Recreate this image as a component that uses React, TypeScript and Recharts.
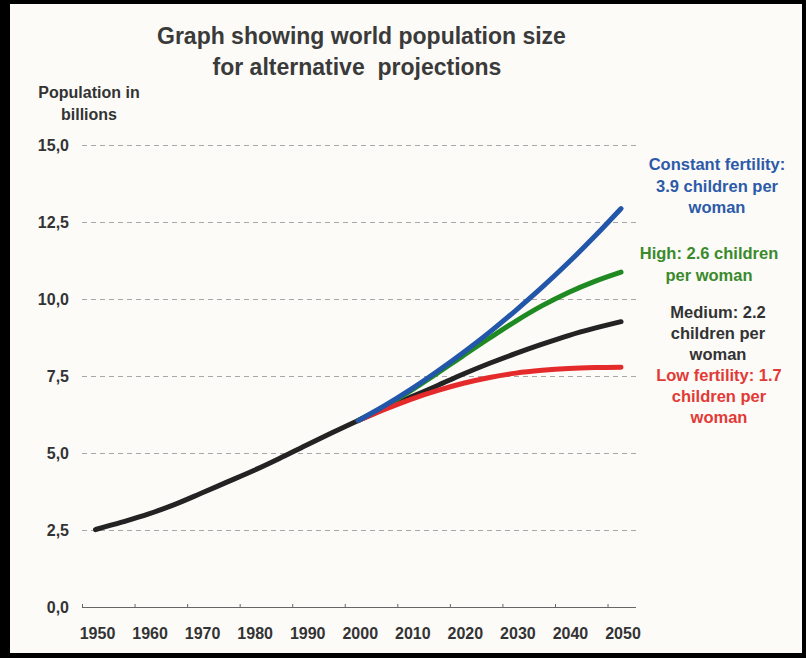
import React from "react";
import { LineChart, Line, XAxis, YAxis, CartesianGrid } from "recharts";

// years on the x axis, one point every 5 years
const years = [
  1950, 1955, 1960, 1965, 1970, 1975, 1980, 1985, 1990, 1995, 2000,
  2005, 2010, 2015, 2020, 2025, 2030, 2035, 2040, 2045, 2050,
];

// population in billions; medium variant carries the 1950-2000 history
const medium = [
  2.53, 2.77, 3.03, 3.34, 3.7, 4.07, 4.44, 4.84, 5.26, 5.67, 6.07,
  6.45, 6.83, 7.2, 7.58, 7.93, 8.25, 8.55, 8.83, 9.07, 9.28,
];
const low = [
  null, null, null, null, null, null, null, null, null, null, 6.07,
  6.43, 6.76, 7.04, 7.28, 7.47, 7.61, 7.7, 7.76, 7.79, 7.8,
];
const high = [
  null, null, null, null, null, null, null, null, null, null, 6.07,
  6.52, 7.04, 7.6, 8.18, 8.75, 9.3, 9.8, 10.23, 10.59, 10.89,
];
const constant = [
  null, null, null, null, null, null, null, null, null, null, 6.07,
  6.55, 7.08, 7.66, 8.28, 8.94, 9.65, 10.4, 11.2, 12.05, 12.95,
];

const xTicks = [1950, 1960, 1970, 1980, 1990, 2000, 2010, 2020, 2030, 2040, 2050];
const yTicks = [0, 2.5, 5, 7.5, 10, 12.5, 15];

const titleLines = ["Graph showing world population size", "for alternative  projections"];
const yLabelLines = ["Population in", "billions"];
const constantLabel = ["Constant fertility:", "3.9 children per", "woman"];
const highLabel = ["High: 2.6 children", "per woman"];
const mediumLabel = ["Medium: 2.2", "children per", "woman"];
const lowLabel = ["Low fertility: 1.7", "children per", "woman"];

const data = years.map((year, i) => ({
  year,
  medium: medium[i],
  low: low[i],
  high: high[i],
  constant: constant[i],
}));

const FONT = '"Liberation Sans", Arial, Helvetica, sans-serif';

const YearTick = (props: any) => {
  const { x, y, payload } = props;
  return (
    <g>
      <line x1={x - 13} x2={x - 13} y1={y - 3.5} y2={y} stroke="#666" strokeWidth={1} />
      <text
        x={x + 2}
        y={y + 26}
        textAnchor="middle"
        dominantBaseline="central"
        fill="#333"
        fontSize={16}
        fontWeight="bold"
        fontFamily={FONT}
      >
        {payload.value}
      </text>
    </g>
  );
};

const TextBlock = ({
  lines,
  left,
  top,
  width,
  color,
  size,
  lineHeight,
}: {
  lines: string[];
  left: number;
  top: number;
  width: number;
  color: string;
  size: number;
  lineHeight: number;
}) => (
  <div
    style={{
      position: "absolute",
      left,
      top,
      width,
      textAlign: "center",
      color,
      fontSize: size,
      lineHeight: `${lineHeight}px`,
      fontWeight: "bold",
      whiteSpace: "pre",
    }}
  >
    {lines.map((l) => (
      <div key={l}>{l}</div>
    ))}
  </div>
);

export default function App() {
  return (
    <div
      style={{
        position: "absolute",
        left: 0,
        top: 0,
        width: 806,
        height: 658,
        background: "#000",
        fontFamily: FONT,
        overflow: "hidden",
      }}
    >
      <div
        style={{
          position: "absolute",
          left: 10,
          top: 4,
          width: 792,
          height: 649,
          background: "#fcfbf8",
        }}
      />
      <div style={{ position: "absolute", left: 0, top: 0 }}>
        <LineChart
          width={806}
          height={658}
          data={data}
          margin={{ top: 145.5, right: 170, bottom: 20.5, left: 22 }}
        >
          <CartesianGrid
            vertical={false}
            stroke="#a8a8a8"
            strokeDasharray="5 4"
          />
          <XAxis
            dataKey="year"
            type="number"
            domain={[1947.43, 2052.85]}
            allowDataOverflow
            ticks={xTicks}
            interval={0}
            height={30}
            tickLine={false}
            tickSize={0}
            tickMargin={0}
            axisLine={{ stroke: "#666", strokeWidth: 1 }}
            tick={<YearTick />}
          />
          <YAxis
            type="number"
            domain={[0, 15]}
            ticks={yTicks}
            interval={0}
            width={60}
            axisLine={false}
            tickLine={false}
            tickSize={0}
            tickMargin={13}
            tickFormatter={(v: number) => v.toFixed(1).replace(".", ",")}
            tick={{ fill: "#333", fontSize: 16, fontWeight: "bold", fontFamily: FONT }}
          />
          <Line
            type="monotone"
            dataKey="medium"
            stroke="#232323"
            strokeWidth={5}
            strokeLinecap="round"
            dot={false}
            activeDot={false}
            isAnimationActive={false}
          />
          <Line
            type="monotone"
            dataKey="high"
            stroke="#1f8a22"
            strokeWidth={5}
            strokeLinecap="round"
            dot={false}
            activeDot={false}
            isAnimationActive={false}
          />
          <Line
            type="monotone"
            dataKey="low"
            stroke="#e42a2a"
            strokeWidth={5}
            strokeLinecap="round"
            dot={false}
            activeDot={false}
            isAnimationActive={false}
          />
          <Line
            type="monotone"
            dataKey="constant"
            stroke="#2256a8"
            strokeWidth={5}
            strokeLinecap="round"
            dot={false}
            activeDot={false}
            isAnimationActive={false}
          />
        </LineChart>
      </div>

      <TextBlock lines={titleLines} left={157} top={21} width={400} color="#3a3a3a" size={23} lineHeight={31} />
      <TextBlock lines={yLabelLines} left={29} top={82} width={120} color="#333" size={16} lineHeight={22} />
      <TextBlock lines={constantLabel} left={637} top={154} width={160} color="#2c5aa8" size={16.5} lineHeight={21.5} />
      <TextBlock lines={highLabel} left={629} top={243} width={160} color="#3a8a2c" size={16.5} lineHeight={21.5} />
      <TextBlock lines={mediumLabel} left={638} top={301.5} width={160} color="#333" size={16.5} lineHeight={21} />
      <TextBlock lines={lowLabel} left={639} top={364.5} width={160} color="#e23a36" size={16.5} lineHeight={21} />
    </div>
  );
}
